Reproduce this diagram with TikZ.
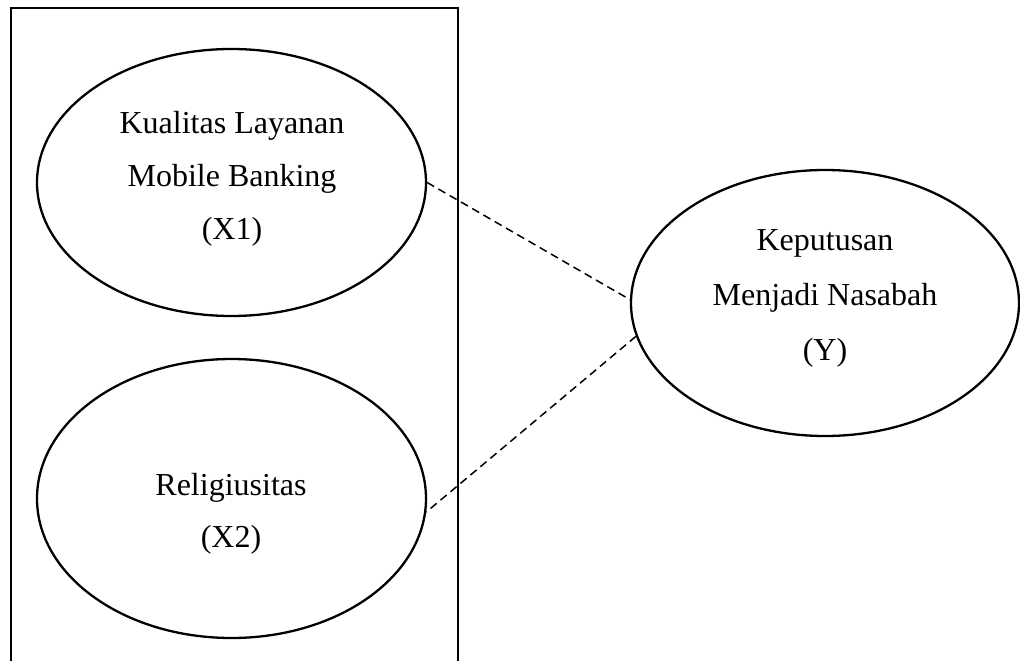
\documentclass[tikz,border=0pt]{standalone}
\usepackage{fontspec}
\setmainfont{Liberation Serif}
\usetikzlibrary{shapes.geometric}
\tikzset{
  construct/.style={draw, ellipse, line width=2.3pt, inner sep=0pt, minimum width=389pt},
  lbl/.style={align=center, anchor=base, inner sep=0pt, font=\fontsize{32}{53}\selectfont},
  link/.style={line width=1.5pt, dash pattern=on 8pt off 5pt},
  frame/.style={line width=2.4pt}
}
\begin{document}
\begin{tikzpicture}[x=1pt,y=-1pt]
\useasboundingbox (0,0) rectangle (1020,661);
\fill[white] (0,0) rectangle (1020,661);
\coordinate (fbl) at (11,670);
\coordinate (ftl) at (11,8);
\coordinate (ftr) at (458,8);
\coordinate (fbr) at (458,670);
\draw[frame] (fbl) -- (ftl) -- (ftr) -- (fbr);
\node[construct, minimum height=267pt] (x1) at (231.5,182.5) {};
\node[construct, minimum height=279pt] (x2) at (231.5,498.5) {};
\node[construct, minimum width=388pt, minimum height=266pt] (y) at (825,303) {};
\node[lbl] (tx1) at (232,239) {Kualitas Layanan\\Mobile Banking\\(X1)};
\node[lbl, font=\fontsize{32}{52}\selectfont] (tx2) at (231,547) {Religiusitas\\(X2)};
\node[lbl, font=\fontsize{32}{55}\selectfont] (ty) at (825,360) {Keputusan\\Menjadi Nasabah\\(Y)};
\draw[link] (x1.east) -- (y.179);
\draw[link] (y.190) -- (x2.356);
\end{tikzpicture}
\end{document}
